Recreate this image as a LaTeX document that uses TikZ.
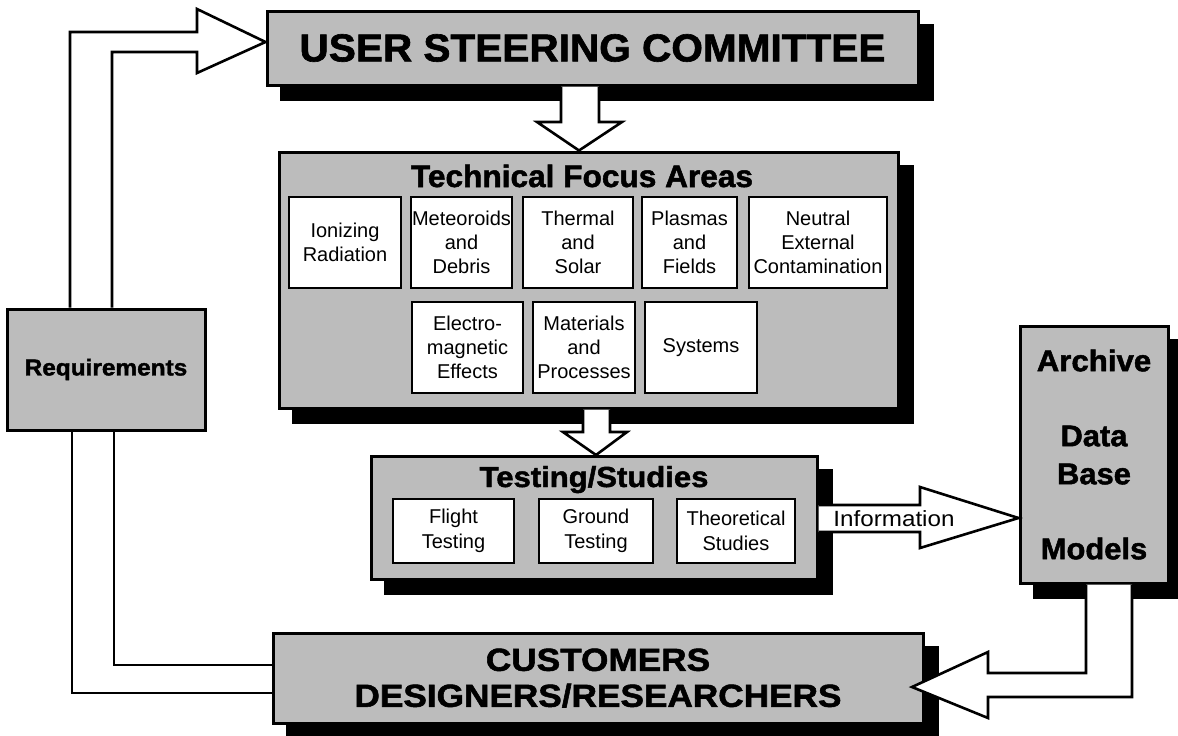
\documentclass[tikz,border=0pt]{standalone}
\usepackage{fontspec}
\setmainfont{Liberation Sans}
\newfontfamily\blackfont[FakeBold=1.6]{Liberation Sans Bold}
\usetikzlibrary{calc,backgrounds}
\definecolor{shadegray}{RGB}{188,188,188}
\begin{document}
\begin{tikzpicture}[x=1pt,y=-1pt,
  sbox/.style={draw=black,line width=3pt,fill=shadegray,inner sep=0pt,align=center},
  wbox/.style={draw=black,line width=2.6pt,fill=white,inner sep=0pt,align=center,font=\fontsize{20}{24}\selectfont},
  tbox/.style={wbox,minimum height=64pt,font=\fontsize{20}{25}\selectfont},
  blk/.style={draw=black,line width=2.6pt,fill=white,line join=miter},
  bline/.style={draw=black,line width=2.6pt,line join=miter},
  boxshadow/.style={fill=black}]
\useasboundingbox (0,0) rectangle (1178,736);

% main boxes
\node[sbox,minimum width=651pt,minimum height=74pt,font=\fontsize{39}{44}\selectfont\blackfont] (usc) at (592.5,48) {\scalebox{1.04}[1]{USER STEERING COMMITTEE}};
\node[sbox,minimum width=619pt,minimum height=256pt] (tfa) at (588.5,280) {};
\node[anchor=base,inner sep=0pt,font=\fontsize{31}{36}\selectfont\blackfont] (tfat) at (582,187) {\scalebox{1.02}[1]{Technical Focus Areas}};

\node[wbox,minimum width=112pt,minimum height=91pt] (ion) at (345,242.5) {Ionizing\\Radiation};
\node[wbox,minimum width=101pt,minimum height=91pt] (met) at (461.5,242.5) {Meteoroids\\and\\Debris};
\node[wbox,minimum width=110pt,minimum height=91pt] (the) at (578,242.5) {Thermal\\and\\Solar};
\node[wbox,minimum width=95pt,minimum height=91pt] (pla) at (689.5,242.5) {Plasmas\\and\\Fields};
\node[wbox,minimum width=138pt,minimum height=91pt] (neu) at (818,242.5) {Neutral\\External\\Contamination};
\node[wbox,minimum width=111pt,minimum height=91pt] (ele) at (467.5,347.5) {Electro-\\magnetic\\Effects};
\node[wbox,minimum width=102pt,minimum height=91pt] (mat) at (584,347.5) {Materials\\and\\Processes};
\node[wbox,minimum width=112pt,minimum height=91pt] (sys) at (701,347.5) {Systems};

\node[sbox,minimum width=446pt,minimum height=123pt] (tst) at (594,518) {};
\node[anchor=base,inner sep=0pt,font=\fontsize{29}{34}\selectfont\blackfont] (tstt) at (594,487) {\scalebox{1.07}[1]{Testing/Studies}};
\node[tbox,minimum width=121pt] (fli) at (453.5,531) {Flight\\Testing};
\node[tbox,minimum width=114pt] (gro) at (596,531) {Ground\\Testing};
\node[tbox,minimum width=118pt] (theo) at (736,531) {Theoretical\\Studies};

\node[sbox,minimum width=148pt,minimum height=257pt,font=\fontsize{30}{36}\selectfont\blackfont] (arc) at (1094,454.5)
  {\scalebox{1.04}[1]{Archive}\\[39pt]\scalebox{1.03}[1]{Data}\\[2pt]\scalebox{1.03}[1]{Base}\\[39pt]\scalebox{1.03}[1]{Models}};
\node[sbox,minimum width=650pt,minimum height=90pt,font=\fontsize{32}{36}\selectfont\blackfont] (cus) at (598,678)
  {\scalebox{1.1}[1]{CUSTOMERS}\\\scalebox{1.1}[1]{DESIGNERS/RESEARCHERS}};
\node[sbox,minimum width=198pt,minimum height=121pt,font=\fontsize{23}{28}\selectfont\blackfont] (req) at (106,369.5) {\scalebox{1.06}[1]{Requirements}};

% shadows
\begin{scope}[on background layer]
\foreach \n in {usc,tfa,tst,arc,cus}
  \fill[boxshadow] ($(\n.north west)+(14,14)$) rectangle ($(\n.south east)+(14,14)$);
\end{scope}

% block arrows
\filldraw[blk] (561,0 |- usc.south) -- (561,122) -- (537,122) -- (579,0 |- tfa.north) -- (622,122) -- (599,122) -- (599,0 |- usc.south);
\filldraw[blk] (583,0 |- tfa.south) -- (583,432) -- (563,432) -- (596,0 |- tst.north) -- (627,432) -- (610,432) -- (610,0 |- tfa.south);
\filldraw[blk] (tst.east |- 0,505) -- (920,505) -- (920,487) -- (arc.west |- 0,518) -- (920,548) -- (920,532) -- (tst.east |- 0,532);
\node[inner sep=0pt,font=\fontsize{22}{26}\selectfont] (info) at (894,519) {\scalebox{1.1}[1]{Information}};
\filldraw[blk] (1086,0 |- arc.south) -- (1086,673) -- (988,673) -- (988,652) -- (912,687) -- (988,718) -- (988,697) -- (1132,697) -- (1132,0 |- arc.south);

% feedback loop through Requirements
\draw[bline] (cus.west |- 0,693) -- (72,693) -- (72,0 |- req.south);
\draw[bline] (cus.west |- 0,665) -- (114,665) -- (114,0 |- req.south);
\filldraw[blk] (70,0 |- req.north) -- (70,32) -- (197,32) -- (197,9) -- (usc.west |- 0,42) -- (197,73) -- (197,52) -- (112,52) -- (112,0 |- req.north);
\end{tikzpicture}
\end{document}
